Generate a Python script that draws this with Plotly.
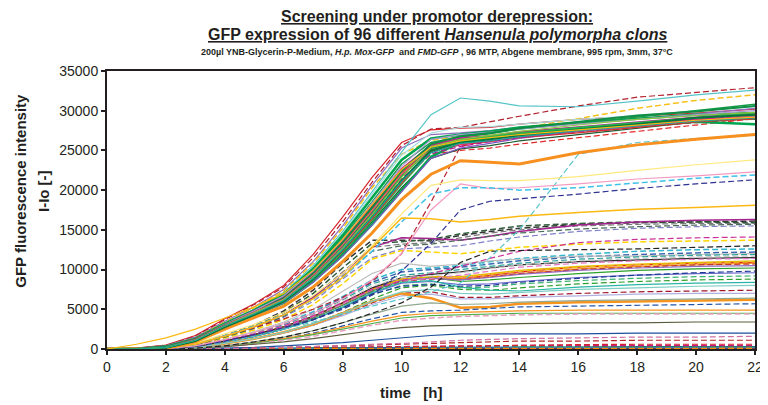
import plotly.graph_objects as go

# ---------------- data ----------------
time_h = [0, 1, 2, 3, 4, 5, 6, 7, 8, 9, 10, 11, 12, 13, 14, 16, 18, 20, 22]
x_ticks = [0, 2, 4, 6, 8, 10, 12, 14, 16, 18, 20, 22]
y_ticks = [0, 5000, 10000, 15000, 20000, 25000, 30000, 35000]

# fast growing clones (reach ~25000-28000 around 11 h)
fast_clones = [
    [0, 100, 500, 1700, 3800, 5700, 8000, 11900, 16600, 21600, 26000, 27600, 27800, 27900, 28300, 28900, 29300, 29700, 30200],
    [0, 100, 450, 1600, 3700, 5600, 7800, 11500, 16000, 21000, 25600, 27700, 27900, 28600, 29300, 30600, 31700, 32300, 32900],
    [0, 50, 400, 1500, 3500, 5300, 7500, 11000, 15500, 20600, 25300, 27000, 27200, 27500, 27900, 28400, 29000, 29600, 30300],
    [0, 50, 300, 1400, 3400, 5200, 7300, 10800, 15200, 20300, 24500, 26300, 26700, 27200, 27800, 29000, 30300, 31300, 32000],
    [0, 0, 300, 1300, 3300, 5000, 7100, 10500, 14800, 19800, 24800, 29500, 31600, 31200, 30600, 30500, 31200, 32000, 32600],
    [0, 50, 300, 1300, 3200, 4900, 7000, 10300, 14600, 19500, 24400, 27200, 27900, 28000, 28300, 28900, 29400, 30000, 30500],
    [0, 0, 300, 1300, 3200, 4900, 6900, 10100, 14300, 19000, 23800, 26500, 27000, 27400, 27900, 28500, 29000, 29500, 29700],
    [0, 0, 300, 1300, 3200, 4800, 6700, 9900, 14000, 18500, 23300, 26000, 26700, 27100, 27700, 28400, 29200, 30000, 30800],
    [0, 0, 200, 1200, 3000, 4700, 6500, 9600, 13500, 18000, 22600, 25600, 26500, 26800, 27300, 27900, 28500, 29100, 29600],
    [0, 0, 200, 1200, 3000, 4600, 6400, 9400, 13200, 17600, 22200, 25300, 26000, 26600, 27000, 27600, 28200, 28800, 29200],
    [0, 0, 200, 1100, 2900, 4500, 6300, 9200, 12900, 17200, 21800, 25300, 26300, 26600, 27000, 27800, 28300, 28900, 29000],
    [0, 0, 200, 1100, 2900, 4500, 6200, 9000, 12600, 16800, 21300, 24500, 25000, 25300, 25800, 26600, 27400, 28200, 29000],
    [0, 0, 200, 1100, 2800, 4400, 6100, 8900, 12400, 16500, 21000, 24800, 25700, 26200, 26700, 27400, 28200, 28900, 29300],
    [0, 0, 150, 1000, 2700, 4300, 5900, 8600, 12000, 16000, 20300, 24000, 25200, 25600, 26200, 27000, 27800, 28600, 29100],
    [0, 0, 150, 1000, 2700, 4200, 5800, 8500, 11800, 15700, 20000, 24200, 26000, 26600, 27000, 27700, 28200, 28600, 28300],
    [0, 0, 150, 1000, 2700, 4200, 5800, 8400, 11700, 15600, 19800, 24000, 25300, 25900, 26500, 27400, 28000, 28700, 29300],
    [0, 0, 100, 900, 2500, 3900, 5400, 7800, 11000, 14600, 18800, 22000, 23700, 23500, 23300, 24700, 25700, 26400, 27000],
    [0, 0, 150, 1000, 2700, 4300, 5900, 8700, 12200, 16200, 20700, 24800, 26300, 26800, 27200, 27900, 28500, 29100, 29700],
    [0, 0, 150, 1000, 2700, 4300, 6000, 8800, 12300, 16400, 20900, 24900, 25800, 26100, 26600, 27200, 27900, 28600, 29000],
    [0, 50, 250, 1200, 3100, 4800, 6700, 9800, 13800, 18400, 23000, 26400, 27000, 27300, 27700, 28300, 28900, 29500, 30000],
    [0, 0, 250, 1200, 3000, 4600, 6400, 9500, 13400, 17800, 22400, 25800, 26800, 27200, 27800, 28600, 29400, 29900, 30600],
    [0, 0, 200, 1100, 2900, 4500, 6200, 9100, 12800, 17000, 21500, 24600, 25500, 26100, 26600, 27500, 28300, 28800, 29500],
    [0, 0, 200, 1200, 3000, 4600, 6300, 9300, 13100, 17400, 22000, 25100, 25800, 26300, 26800, 27500, 28100, 28700, 29400],
    [0, 0, 150, 1000, 2800, 4300, 6000, 8800, 12500, 16700, 21200, 25000, 26000, 26400, 26900, 27600, 28300, 29100, 29500],
    [0, 0, 200, 1100, 2900, 4500, 6200, 9000, 12700, 16900, 21600, 25500, 26400, 26900, 27400, 28200, 28900, 29400, 29800],
    [0, 0, 200, 1100, 2900, 4400, 6100, 8900, 12500, 16600, 21100, 24700, 25900, 26200, 26700, 27500, 28100, 28700, 29100],
    [0, 600, 1400, 2500, 3900, 5300, 7000, 9900, 13800, 18200, 22600, 25400, 26200, 26600, 27000, 27600, 28200, 28800, 29200],
]
fast_colors = ["#D7262E", "#B3202E", "#8E6DBF", "#F6C11B", "#55C4C8", "#A9DCDC", "#00A550", "#169B48",
               "#BE1E8C", "#E32A2A", "#00A550", "#E32A2A", "#C2258F", "#1F5A34", "#00A550", "#7E57C2",
               "#F7901E", "#2DB04F", "#D93030", "#A99BD3", "#0E8F45", "#C0168C", "#F0566A", "#007A3D",
               "#8CC63F", "#1AA39A", "#FDB913"]
fast_styles = [(1.2, "solid"), (1.2, "dash"), (1.2, "solid"), (1.5, "dash"), (1.2, "solid"), (1.2, "solid"),
               (2.5, "solid"), (1.5, "solid"), (2.5, "solid"), (1.2, "solid"), (2.5, "solid"), (1.2, "dash"),
               (1.2, "solid"), (1.2, "solid"), (2.5, "solid"), (1.2, "solid"), (3, "solid"), (1.5, "solid"),
               (1.2, "solid"), (1.2, "solid"), (2, "solid"), (1.2, "dash"), (1.2, "solid"), (2, "solid"),
               (1.2, "solid"), (1.2, "solid"), (1.2, "solid")]

# clones that climb late
late_clones = [
    [0, 0, 100, 600, 1700, 2700, 3800, 5000, 6500, 8500, 12000, 18500, 25500, 26300, 26700, 27300, 27900, 28500, 29000],
    [0, 0, 50, 300, 900, 1600, 2500, 3400, 4400, 5400, 6300, 7200, 8300, 11500, 15000, 24500, 26000, 26500, 26900],
    [0, 0, 50, 300, 1000, 1800, 2700, 3700, 5000, 6800, 9800, 13300, 17500, 18600, 18900, 19500, 20200, 20800, 21300],
    [0, 0, 50, 400, 1200, 2100, 3200, 4500, 6300, 8700, 12000, 17500, 20800, 20200, 20300, 20800, 21400, 21800, 22300],
    [0, 0, 100, 600, 1700, 2900, 4300, 6300, 9000, 12300, 16000, 19500, 20300, 20300, 20000, 20300, 20900, 21500, 21900],
    [0, 0, 100, 700, 1900, 3100, 4600, 6700, 9500, 13000, 17000, 20600, 21300, 21200, 21200, 21700, 22500, 23200, 23800],
    [0, 0, 100, 600, 1600, 2800, 4300, 6300, 9000, 12800, 16500, 16400, 16000, 16300, 16700, 17200, 17600, 17800, 18100],
]
late_colors = ["#B5232F", "#5CC6CC", "#2E3192", "#F49AC1", "#3FC1E8", "#FFE97F", "#FDB913"]
late_styles = [(1.2, "dash"), (1.2, "dash"), (1.2, "dash"), (1.2, "solid"), (1.5, "dash"), (1.2, "solid"), (1.5, "solid")]

# upper middle clones (13000-16500 at 22 h)
upper_clones = [
    [0, 0, 100, 600, 1700, 3000, 4800, 7400, 10800, 13700, 13700, 13600, 14300, 14800, 15200, 15700, 15900, 16000, 16100],
    [0, 0, 100, 600, 1600, 2900, 4600, 7000, 10200, 13300, 13500, 13800, 14500, 15000, 15500, 15800, 16000, 16000, 15900],
    [0, 0, 100, 500, 1500, 2700, 4300, 6600, 9700, 12800, 13200, 13400, 14000, 14600, 15000, 15500, 15700, 15800, 15800],
    [0, 0, 100, 600, 1600, 2800, 4300, 6500, 9500, 12800, 14000, 13900, 13700, 14200, 14800, 15600, 16000, 16200, 16300],
    [0, 0, 100, 500, 1500, 2600, 4000, 6000, 8800, 11500, 12600, 12800, 13000, 13600, 14100, 14800, 15200, 15400, 15500],
    [0, 0, 100, 500, 1400, 2400, 3700, 5600, 8200, 11300, 12400, 12200, 12000, 12400, 12800, 13200, 13500, 13600, 13700],
    [0, 0, 50, 400, 1100, 1900, 2900, 4200, 5800, 7500, 8600, 9500, 10400, 11400, 12300, 13400, 13800, 14000, 14100],
    [0, 0, 0, 100, 400, 900, 1500, 2300, 3300, 4500, 5800, 7800, 10900, 12300, 12400, 12500, 12600, 12800, 13000],
    [0, 0, 100, 500, 1500, 2600, 4100, 6300, 9200, 12300, 13000, 13200, 13700, 14200, 14600, 15100, 15400, 15600, 15700],
]
upper_colors = ["#333333", "#2F5D3A", "#777777", "#A3238E", "#7F7FC8", "#FFD400", "#CC3399", "#222222", "#4A6B5A"]
upper_styles = [(1.5, "dash"), (1.5, "dash"), (1.2, "dash"), (1.5, "solid"), (1.2, "dash"), (1.5, "dash"),
                (1.2, "dash"), (1.2, "dash"), (1.2, "dash")]

# middle clones (11000-12600 at 22 h)
middle_clones = [
    [0, 0, 50, 400, 1200, 2100, 3200, 4700, 6600, 8700, 10000, 10200, 10500, 11000, 11400, 11900, 12300, 12500, 12600],
    [0, 0, 50, 400, 1100, 2000, 3100, 4500, 6400, 8400, 9700, 10000, 10300, 10700, 11100, 11600, 11900, 12100, 12200],
    [0, 0, 50, 400, 1200, 2200, 3400, 5000, 7200, 9500, 10800, 10400, 10700, 11100, 11300, 11700, 11700, 11900, 12000],
    [0, 0, 50, 300, 1000, 1800, 2800, 4100, 5800, 7700, 9000, 9400, 9700, 10200, 10600, 11000, 11200, 11400, 11500],
    [0, 0, 50, 400, 1100, 2000, 3000, 4400, 6200, 8200, 9300, 9600, 10000, 10400, 10800, 11300, 11600, 11800, 11900],
    [0, 0, 50, 300, 1000, 1900, 2900, 4300, 6000, 7900, 9000, 9200, 9600, 10100, 10600, 11100, 11400, 11600, 11700],
    [0, 0, 50, 300, 1000, 1800, 2800, 4100, 5700, 7500, 8600, 8900, 9300, 9800, 10300, 10800, 11100, 11300, 11400],
]
middle_colors = ["#33B5CC", "#3A66B0", "#BDBDBD", "#2B2B2B", "#2AA198", "#C8C8C8", "#E377C2"]
middle_styles = [(1.5, "dash"), (1.5, "dash"), (1.2, "solid"), (1.2, "solid"), (1.2, "dash"), (1.2, "dash"), (1.2, "dash")]

# lower clones (peak near 10 h, 1000-11000 at 22 h)
lower_clones = [
    [0, 0, 50, 300, 1000, 1800, 2800, 4100, 5800, 7600, 8800, 9000, 8900, 9300, 9700, 10300, 10600, 10800, 10900],
    [0, 0, 50, 300, 900, 1700, 2700, 4000, 5600, 7400, 8700, 9000, 8800, 9100, 9500, 10100, 10400, 10600, 10800],
    [0, 0, 50, 300, 1000, 1800, 2800, 4100, 5800, 7600, 8800, 9100, 9000, 9400, 9800, 10300, 10600, 10800, 11000],
    [0, 0, 50, 300, 900, 1700, 2700, 3900, 5500, 7200, 8500, 8800, 8700, 9100, 9500, 10000, 10300, 10600, 10700],
    [0, 0, 50, 300, 900, 1700, 2600, 3900, 5500, 7300, 8600, 9000, 8500, 8700, 9000, 9500, 9900, 10100, 10200],
    [0, 0, 50, 300, 900, 1600, 2500, 3700, 5200, 7000, 8300, 8500, 8100, 8200, 8500, 9000, 9300, 9500, 9600],
    [0, 0, 50, 200, 700, 1300, 2100, 3200, 4600, 6300, 7700, 8000, 7500, 7400, 7700, 8200, 8500, 8700, 8800],
    [0, 0, 50, 300, 900, 1600, 2500, 3700, 5300, 7100, 8400, 8600, 7800, 7400, 7300, 7800, 8100, 8300, 8400],
    [0, 0, 50, 200, 700, 1300, 2000, 3000, 4300, 5800, 7000, 7200, 6500, 6500, 6700, 7000, 7200, 7300, 7400],
    [0, 0, 50, 200, 700, 1300, 2000, 3000, 4200, 5600, 6700, 6900, 6300, 6300, 6500, 6700, 6900, 7000, 7000],
    [0, 0, 50, 200, 700, 1300, 2100, 3100, 4500, 6000, 7000, 6400, 5200, 5300, 5700, 5900, 6000, 6100, 6200],
    [0, 0, 0, 100, 400, 800, 1300, 2000, 2900, 3800, 4600, 4800, 4900, 5100, 5300, 5400, 5500, 5600, 5700],
    [0, 0, 0, 100, 400, 800, 1300, 1900, 2700, 3500, 4200, 4500, 4600, 4700, 4800, 4900, 4900, 4900, 4900],
    [0, 0, 0, 100, 300, 700, 1200, 1800, 2500, 3200, 3900, 4200, 4300, 4400, 4500, 4500, 4500, 4500, 4500],
    [0, 0, 0, 100, 300, 600, 1100, 1600, 2300, 3000, 3600, 3900, 4100, 4200, 4300, 4400, 4400, 4400, 4400],
    [0, 0, 0, 100, 300, 600, 900, 1300, 1800, 2300, 2700, 2900, 3000, 3100, 3200, 3300, 3300, 3400, 3400],
    [0, 0, 0, 0, 100, 200, 400, 600, 800, 1100, 1400, 1700, 1900, 1900, 1900, 1900, 2000, 2000, 2000],
    [0, 0, 0, 0, 50, 100, 200, 300, 400, 500, 600, 700, 800, 900, 1000, 1000, 1100, 1100, 1100],
    [0, 0, 0, 0, 50, 100, 200, 300, 400, 600, 700, 900, 1100, 1200, 1300, 1400, 1500, 1500, 1600],
    [0, 0, 50, 300, 1000, 1800, 2700, 4000, 5600, 7400, 8700, 8900, 8700, 9000, 9400, 9900, 10200, 10400, 10500],
    [0, 0, 50, 300, 900, 1600, 2500, 3700, 5100, 6800, 8000, 8200, 7700, 7800, 8200, 8600, 8900, 9100, 9200],
    [0, 0, 50, 300, 1000, 1800, 2800, 4100, 5700, 7500, 8800, 9100, 9100, 9500, 9900, 10400, 10700, 10900, 11100],
    [0, 0, 50, 300, 900, 1600, 2500, 3700, 5200, 6900, 7900, 8100, 7900, 8000, 8400, 8900, 9300, 9600, 9800],
    [0, 0, 50, 200, 700, 1300, 2100, 3200, 4500, 6000, 7200, 7500, 7000, 6900, 7100, 7500, 7700, 7900, 8000],
    [0, 0, 0, 100, 400, 900, 1500, 2300, 3300, 4400, 5400, 5800, 5600, 5700, 5900, 6100, 6200, 6300, 6400],
]
lower_colors = ["#E41A1C", "#F7941D", "#F0C020", "#C0392B", "#2CA02C", "#6A6ACD", "#2CA02C", "#2BB5A5",
                "#A0152A", "#B0B0E0", "#F7941D", "#2255AA", "#F7941D", "#4DAF4A", "#E7A0C0", "#5C5C3D",
                "#1F4E9C", "#B22222", "#D070A0", "#9467BD", "#3CB371", "#E6B800", "#1F3A93", "#7FCDC4",
                "#8FA88F"]
lower_styles = [(1.2, "solid"), (1.2, "solid"), (1.5, "dash"), (1.2, "dash"), (1.2, "solid"), (1.2, "solid"),
                (1.2, "dash"), (1.2, "solid"), (1.2, "dash"), (1.2, "solid"), (2.5, "solid"), (1.2, "dash"),
                (1.2, "solid"), (1.2, "solid"), (1.5, "dash"), (1.2, "solid"), (1.2, "solid"), (1.2, "dash"),
                (1.2, "dash"), (1.2, "solid"), (1.2, "dash"), (1.2, "solid"), (1.2, "dash"), (1.2, "solid"),
                (1.2, "solid")]

# clones with (almost) no expression
flat_clones = [
    [0, -100, -200, -100, 0, 50, 100, 100, 150, 150, 200, 200, 200, 250, 250, 250, 300, 300, 300],
    [0, 0, -100, -100, 0, 0, 50, 50, 100, 100, 100, 100, 150, 150, 150, 150, 150, 150, 150],
    [0, -100, -100, 0, 0, 50, 50, 50, 100, 100, 100, 100, 100, 100, 100, 100, 100, 100, 100],
    [0, 0, 0, 0, 0, 0, 0, 50, 50, 50, 50, 50, 50, 50, 50, 50, 50, 50, 50],
    [0, -50, -150, -100, -50, 0, 0, 50, 50, 50, 100, 100, 100, 100, 100, 100, 100, 100, 100],
    [0, 0, -100, -50, 0, 50, 100, 150, 200, 250, 300, 300, 300, 300, 300, 300, 300, 300, 300],
    [0, 0, 0, 0, 50, 50, 50, 100, 100, 100, 150, 150, 150, 150, 200, 200, 200, 200, 200],
    [0, 0, -50, 0, 50, 100, 150, 200, 250, 300, 350, 400, 400, 400, 450, 450, 450, 450, 450],
    [0, -50, -100, -50, 0, 50, 100, 150, 200, 250, 300, 350, 400, 450, 500, 550, 600, 600, 600],
    [0, 0, 0, 0, 0, 50, 50, 50, 50, 50, 50, 50, 50, 50, 50, 50, 50, 50, 50],
    [0, -100, -200, -150, -100, 0, 0, 0, 0, 50, 50, 50, 50, 50, 50, 50, 50, 50, 50],
    [0, 0, 0, 0, 0, 0, 0, 0, 0, 0, 0, 0, 0, 0, 0, 0, 0, 0, 0],
    [0, 0, 0, 0, 50, 50, 50, 50, 50, 100, 100, 100, 100, 100, 100, 100, 100, 100, 100],
    [0, 0, 0, 0, 0, 0, 50, 50, 50, 50, 50, 50, 50, 50, 100, 100, 100, 100, 100],
    [0, 0, -50, -50, 0, 0, 0, 50, 50, 50, 50, 100, 100, 100, 100, 100, 100, 100, 100],
    [0, 0, 0, 0, 0, 50, 50, 100, 100, 150, 150, 200, 200, 200, 200, 250, 250, 250, 250],
    [0, 0, 0, 0, 0, 0, 0, 0, 50, 50, 50, 50, 50, 50, 50, 50, 50, 50, 50],
    [0, 0, -50, -50, 0, 0, 0, 0, 0, 0, 50, 50, 50, 50, 50, 50, 50, 50, 50],
    [0, 0, 0, 0, 0, 0, 50, 50, 50, 50, 50, 50, 100, 100, 100, 100, 100, 100, 100],
    [0, -50, -100, -50, 0, 0, 50, 50, 100, 100, 100, 150, 150, 150, 150, 150, 150, 150, 150],
    [0, 0, 0, 0, 0, 0, 0, 0, 0, 50, 50, 50, 50, 50, 50, 50, 50, 50, 50],
]
flat_colors = ["#1F77B4", "#2CA02C", "#FF9900", "#999999", "#9467BD", "#17BECF", "#006400", "#C71585",
               "#D62728", "#4169E1", "#FFD700", "#808000", "#000080", "#FF69B4", "#32CD32", "#8B4513",
               "#00CED1", "#8B0000", "#9ACD32", "#4682B4", "#FF8C00"]
flat_styles = [(1.2, "solid"), (1.5, "dash"), (1.2, "solid"), (1.2, "solid"), (1.2, "solid"), (1.2, "dash"),
               (1.2, "solid"), (1.2, "dash"), (1.2, "dash"), (1.2, "dash"), (1.2, "dash"), (1.2, "solid"),
               (1.2, "solid"), (1.2, "solid"), (1.2, "solid"), (1.2, "dash"), (1.2, "solid"), (1.2, "solid"),
               (1.2, "dash"), (1.2, "solid"), (1.5, "dash")]

# ---------------- figure ----------------
FONT = "Liberation Sans, Arial, sans-serif"
DASH = "6px,3px"

fig = go.Figure()

groups = [
    (flat_clones, flat_colors, flat_styles),
    (lower_clones, lower_colors, lower_styles),
    (middle_clones, middle_colors, middle_styles),
    (upper_clones, upper_colors, upper_styles),
    (late_clones, late_colors, late_styles),
    (fast_clones, fast_colors, fast_styles),
]
for values_list, colors, styles in groups:
    for vals, col, (w, d) in zip(values_list, colors, styles):
        fig.add_trace(go.Scatter(
            x=time_h, y=vals, mode="lines",
            line=dict(color=col, width=w, dash=DASH if d == "dash" else "solid"),
            showlegend=False, hoverinfo="skip"))

# page body has an 8px margin: figure is 760x397 drawn at (8, 8)
# -> plot area spans page x 107..763, y 71..349
fig.update_layout(
    width=760, height=397,
    margin=dict(l=99, r=5, t=63, b=56),
    paper_bgcolor="white", plot_bgcolor="white",
    font=dict(family=FONT, color="#231F20"),
    showlegend=False,
)
fig.update_xaxes(
    range=[0, 22], tickvals=x_ticks, ticktext=[str(v) for v in x_ticks],
    showgrid=False, zeroline=False,
    showline=True, linecolor="#231F20", linewidth=2, mirror=True,
    ticks="outside", ticklen=4, tickwidth=1.5, tickcolor="#231F20",
    ticklabeloverflow="allow",
    tickfont=dict(size=14, family=FONT, color="#231F20"),
)
fig.update_yaxes(
    range=[0, 35000], tickvals=y_ticks, ticktext=[str(v) for v in y_ticks],
    showgrid=False, zeroline=False,
    showline=True, linecolor="#231F20", linewidth=2, mirror=True,
    ticks="outside", ticklen=4, tickwidth=1.5, tickcolor="#231F20",
    tickfont=dict(size=14, family=FONT, color="#231F20"),
)

title_lines = [
    ("<b><u>Screening under promotor derepression:</u></b>", 16, 1.195),
    ("<b><u>GFP expression of 96 different <i>Hansenula polymorpha clons</i></u></b>", 16, 1.130),
    ("<b>200µl YNB-Glycerin-P-Medium, <i>H.p. Mox-GFP</i>  and <i>FMD-GFP</i> , 96 MTP, Abgene membrane, 995 rpm, 3mm, 37°C</b>", 9, 1.068),
]
for txt, size, ypos in title_lines:
    fig.add_annotation(text=txt, xref="paper", yref="paper", x=0.51, y=ypos,
                       xanchor="center", yanchor="middle", showarrow=False,
                       font=dict(size=size, family=FONT, color="#231F20"))

fig.add_annotation(text="<b>GFP fluorescence intensity</b>", xref="paper", yref="paper",
                   x=-0.134, y=0.57, textangle=-90, xanchor="center", yanchor="middle",
                   showarrow=False, font=dict(size=15, family=FONT, color="#231F20"))
fig.add_annotation(text="<b>I-Io [-]</b>", xref="paper", yref="paper",
                   x=-0.098, y=0.57, textangle=-90, xanchor="center", yanchor="middle",
                   showarrow=False, font=dict(size=15, family=FONT, color="#231F20"))
fig.add_annotation(text="<b>time   [h]</b>", xref="paper", yref="paper",
                   x=0.47, y=-0.158, xanchor="center", yanchor="middle",
                   showarrow=False, font=dict(size=15, family=FONT, color="#231F20"))

fig.write_html("out.html", config={"displayModeBar": False})
